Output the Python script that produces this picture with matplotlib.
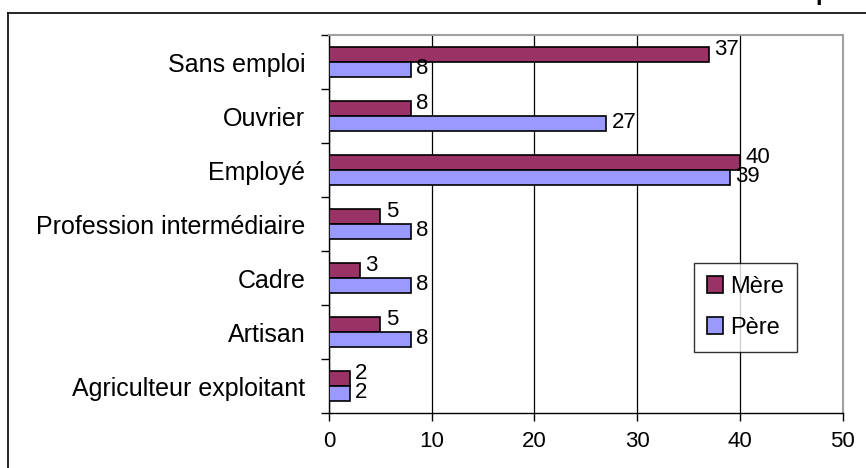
import numpy as np
import matplotlib
matplotlib.use("Agg")
import matplotlib.pyplot as plt
from matplotlib.lines import Line2D

plt.rcParams["font.family"] = ["Liberation Sans", "DejaVu Sans"]

# ── Data ──────────────────────────────────────────────────────────────────────
categories = ["Sans emploi", "Ouvrier", "Employé", "Profession intermédiaire",
              "Cadre", "Artisan", "Agriculteur exploitant"]
mere = [37, 8, 40, 5, 3, 5, 2]
pere = [8, 27, 39, 8, 8, 8, 2]
x_ticks = [0, 10, 20, 30, 40, 50]

MERE_C, PERE_C = "#993366", "#9999FF"
FS_CAT, FS_NUM = 18, 16

fig = plt.figure(figsize=(8.66, 4.68), dpi=100, facecolor="white")
ax = fig.add_axes([0.380, 0.1175, 0.593, 0.8075])

n = len(categories)
y = np.arange(n)[::-1]  # top category first
h = 0.28

ax.barh(y + h / 2, mere, height=h, color=MERE_C, edgecolor="black", lw=1.2,
        label="Mère", zorder=3)
ax.barh(y - h / 2, pere, height=h, color=PERE_C, edgecolor="black", lw=1.2,
        label="Père", zorder=3)

for yi, m, p in zip(y, mere, pere):
    ax.text(m + 0.5, yi + h / 2 + 0.1, str(m), va="center", ha="left",
            fontsize=FS_NUM, zorder=4)
    ax.text(p + 0.5, yi - h / 2 + 0.02, str(p), va="center", ha="left",
            fontsize=FS_NUM, zorder=4)

ax.set_xlim(0, 50)
ax.set_ylim(-0.5, n - 0.5)
ax.set_xticks(x_ticks)
ax.set_xticklabels([str(t) for t in x_ticks], fontsize=FS_NUM)
ax.set_yticks(y)
ax.set_yticklabels(categories, fontsize=FS_CAT)
ax.tick_params(axis="y", length=0, pad=17)
ax.set_yticks(np.arange(n + 1) - 0.5, minor=True)
ax.tick_params(axis="y", which="minor", length=6, width=1, direction="out")
ax.tick_params(axis="x", length=6, width=1, direction="out", pad=7)

ax.grid(axis="x", color="black", lw=0.9, zorder=1)
for s in ["top", "right"]:
    ax.spines[s].set_color("#a0a0a0")
    ax.spines[s].set_linewidth(1.5)
for s in ["left", "bottom"]:
    ax.spines[s].set_color("black")
    ax.spines[s].set_linewidth(1)

leg = ax.legend(loc="center", bbox_to_anchor=(0.811, 0.28), fontsize=17,
                frameon=True, fancybox=False, edgecolor="black",
                handlelength=0.7, handleheight=0.7, handletextpad=0.3,
                labelspacing=0.8, borderpad=0.55, borderaxespad=0)
leg.get_frame().set_linewidth(1)

# outer chart frame (cut off at right/bottom) and clipped title
fig.add_artist(Line2D([8 / 866, 1], [1 - 13 / 468] * 2, color="black", lw=1.2))
fig.add_artist(Line2D([8 / 866] * 2, [0, 1 - 13 / 468], color="black", lw=1.2))
fig.text(815 / 866, 1.0, "p", fontsize=17, fontweight="bold", va="baseline",
         ha="left")

fig.savefig("out.png", dpi=100, facecolor="white")
